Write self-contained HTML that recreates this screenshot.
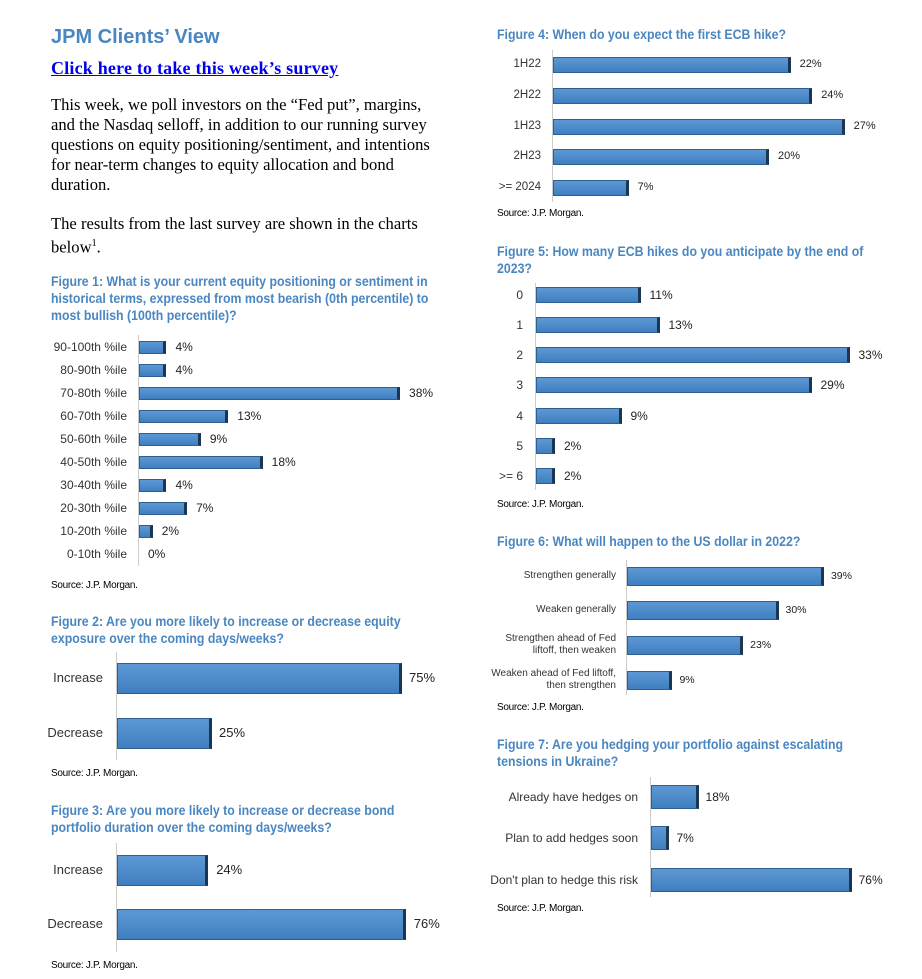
<!DOCTYPE html>
<html><head><meta charset="utf-8"><style>
body{margin:0;width:922px;height:979px;background:#fff;position:relative;overflow:hidden;font-family:"Liberation Sans",sans-serif}
.a{position:absolute;white-space:nowrap}
.t{color:#4a86c0;font-weight:bold;font-size:13.5px;line-height:17px;transform:scaleX(0.913);transform-origin:0 0}
.p{font-family:"Liberation Serif",serif;font-size:16.6px;line-height:20px;color:#000}
.s{font-size:10px;color:#000;letter-spacing:-0.3px}
.bar{position:absolute;background:linear-gradient(#5d98d4,#3f7fc0);border:1px solid #2f5f8f;border-right:3px solid #1c3550;box-sizing:border-box}
.ax{position:absolute;width:1px;background:#ccc}
.l{position:absolute;text-align:right;color:#333;white-space:nowrap}
.v{position:absolute;color:#222;white-space:nowrap}
</style></head><body>
<div class="a" style="left:51px;top:26px;font-size:20px;font-weight:bold;color:#4a86c0">JPM Clients’ View</div>
<div class="a" style="left:51px;top:58px;font-family:'Liberation Serif',serif;font-size:18px;font-weight:bold;color:#0000ee;text-decoration:underline;letter-spacing:0.2px">Click here to take this week’s survey</div>
<div class="a p" style="left:51px;top:95px">This week, we poll investors on the “Fed put”, margins,<br>and the Nasdaq selloff, in addition to our running survey<br>questions on equity positioning/sentiment, and intentions<br>for near-term changes to equity allocation and bond<br>duration.</div>
<div class="a p" style="left:51px;top:214px">The results from the last survey are shown in the charts<br>below<sup style="font-size:10px">1</sup>.</div>
<div class="a t" style="left:51px;top:273px">Figure 1: What is your current equity positioning or sentiment in<br>historical terms, expressed from most bearish (0th percentile) to<br>most bullish (100th percentile)?</div>
<div class="a s" style="left:51px;top:580px">Source: J.P. Morgan.</div>
<div class="a t" style="left:51px;top:613px">Figure 2: Are you more likely to increase or decrease equity<br>exposure over the coming days/weeks?</div>
<div class="a s" style="left:51px;top:768px">Source: J.P. Morgan.</div>
<div class="a t" style="left:51px;top:802px">Figure 3: Are you more likely to increase or decrease bond<br>portfolio duration over the coming days/weeks?</div>
<div class="a s" style="left:51px;top:960px">Source: J.P. Morgan.</div>
<div class="a t" style="left:497px;top:26px">Figure 4: When do you expect the first ECB hike?</div>
<div class="a s" style="left:497px;top:208px">Source: J.P. Morgan.</div>
<div class="a t" style="left:497px;top:243px">Figure 5: How many ECB hikes do you anticipate by the end of<br>2023?</div>
<div class="a s" style="left:497px;top:499px">Source: J.P. Morgan.</div>
<div class="a t" style="left:497px;top:533px">Figure 6: What will happen to the US dollar in 2022?</div>
<div class="a s" style="left:497px;top:702px">Source: J.P. Morgan.</div>
<div class="a t" style="left:497px;top:736px">Figure 7: Are you hedging your portfolio against escalating<br>tensions in Ukraine?</div>
<div class="a s" style="left:497px;top:903px">Source: J.P. Morgan.</div>
<script>
function chart(o){
  var b=document.body;
  var ax=document.createElement('div');ax.className='ax';
  ax.style.cssText='left:'+o.x+'px;top:'+o.y0+'px;height:'+(o.y1-o.y0)+'px';b.appendChild(ax);
  o.rows.forEach(function(r){
    var w=r[2]*o.k, h=o.h;
    if(w>0){var d=document.createElement('div');d.className='bar';
      d.style.cssText='left:'+(o.x+1)+'px;top:'+(r[1]-h/2)+'px;width:'+w+'px;height:'+h+'px';b.appendChild(d);}
    var l=document.createElement('div');l.className='l';
    l.style.cssText='right:'+(922-o.lx)+'px;top:'+(r[1]-o.fs*0.6*(r[0].indexOf('<br>')>0?2:1))+'px;font-size:'+o.fs+'px;line-height:'+(o.fs*1.2)+'px';
    l.innerHTML=r[0];b.appendChild(l);
    var v=document.createElement('div');v.className='v';
    v.style.cssText='left:'+(o.x+1+w+o.vg)+'px;top:'+(r[1]-o.vf*0.6)+'px;font-size:'+o.vf+'px;line-height:'+(o.vf*1.2)+'px';
    v.textContent=r[2]+'%';b.appendChild(v);
  });
}
chart({x:138,y0:335,y1:566,k:6.87,h:13,lx:127,fs:12,vf:12,vg:9,rows:[["90-100th %ile",347,4],["80-90th %ile",370,4],["70-80th %ile",393,38],["60-70th %ile",416,13],["50-60th %ile",439,9],["40-50th %ile",462,18],["30-40th %ile",485,4],["20-30th %ile",508,7],["10-20th %ile",531,2],["0-10th %ile",554,0]]});
chart({x:116,y0:652,y1:760,k:3.8,h:31,lx:103,fs:13,vf:13,vg:7,rows:[["Increase",678,75],["Decrease",733,25]]});
chart({x:116,y0:843,y1:952,k:3.8,h:31,lx:103,fs:13,vf:13,vg:8,rows:[["Increase",870,24],["Decrease",924,76]]});
chart({x:552,y0:50,y1:202,k:10.8,h:16,lx:541,fs:11.5,vf:11,vg:9,rows:[["1H22",65,22],["2H22",96,24],["1H23",127,27],["2H23",157,20],["&gt;= 2024",188,7]]});
chart({x:535,y0:283,y1:490,k:9.5,h:16,lx:523,fs:12,vf:12,vg:9,rows:[["0",295,11],["1",325,13],["2",355,33],["3",385,29],["4",416,9],["5",446,2],["&gt;= 6",476,2]]});
chart({x:626,y0:560,y1:695,k:5.05,h:19,lx:616,fs:10,vf:10.5,vg:7,rows:[["Strengthen generally",576,39],["Weaken generally",610,30],["Strengthen ahead of Fed<br>liftoff, then weaken",645,23],["Weaken ahead of Fed liftoff,<br>then strengthen",680,9]]});
chart({x:650,y0:777,y1:897,k:2.64,h:24,lx:638,fs:12,vf:12,vg:7,rows:[["Already have hedges on",797,18],["Plan to add hedges soon",838,7],["Don't plan to hedge this risk",880,76]]});
</script>
</body></html>
